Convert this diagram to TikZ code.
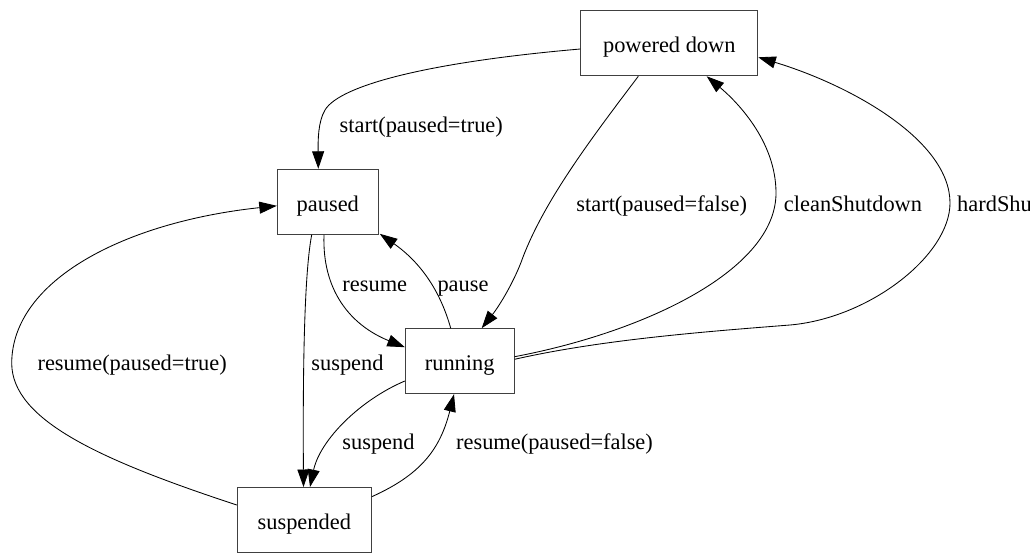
\documentclass[tikz,border=0pt]{standalone}
\usepackage{fontspec}
\setmainfont{Liberation Serif}
\usetikzlibrary{arrows.meta,calc}
\begin{document}
\begin{tikzpicture}[x=1pt,y=-1pt,
  state/.style={draw=black!75, line width=1pt, rectangle, inner sep=0pt,
    minimum height=65pt, text height=19pt, text depth=0pt,
    font=\fontsize{22.4}{26}\selectfont},
  edge/.style={line width=0.85pt, -{Triangle[length=17.5pt,width=12pt]}},
  lbl/.style={inner sep=0pt, anchor=base, font=\fontsize{22.4}{26}\selectfont}]
\clip (0,0) rectangle (1030,552);

% states
\node[state, minimum width=177pt] (pd) at (669.3,43.3) {powered down};
\node[state, minimum width=101pt] (paused) at (327.8,201.8) {paused};
\node[state, minimum width=108.7pt] (running) at (459.7,361.2) {running};
\node[state, minimum width=134pt] (suspended) at (304.3,520) {suspended};

% transitions
\draw[edge] ($(pd.west)+(0,5.7)$) .. controls (430,62) and (340,85) .. (325,110)
  .. controls (318,122) and (318,140) .. ($(paused.north)+(-9.5,0)$);
\draw[edge] ($(pd.south)+(-31,0)$) .. controls (590,140) and (545,200) .. (523,257)
  .. controls (515,280) and (500,305) .. ($(running.north)+(22,0)$);
\draw[edge] ($(running.east)+(0,-4.5)$) .. controls (645,332) and (776,270) .. (776,193)
  .. controls (776,140) and (735,100) .. ($(pd.south)+(37.4,0)$);
\draw[edge] ($(running.east)+(0,-1.9)$) .. controls (600,340) and (700,332) .. (790,325)
  .. controls (870,318) and (950,255) .. (950,203)
  .. controls (950,140) and (850,85) .. ($(pd.east)+(0,14)$);
\draw[edge] ($(paused.south)+(-3.8,0)$) .. controls (322,290) and (350,325)
  .. ($(running.west)+(0,-14)$);
\draw[edge] ($(running.north)+(-9,0)$) .. controls (440,290) and (420,262)
  .. ($(paused.south east)+(1,-1)$);
\draw[edge] ($(paused.south)+(-16.1,0)$) .. controls (303,280) and (303,400)
  .. ($(suspended.north)+(-0.8,0)$);
\draw[edge] ($(running.west)+(0,19.8)$) .. controls (360,400) and (320,440)
  .. ($(suspended.north)+(5.7,0)$);
\draw[edge] ($(suspended.east)+(0,-23.3)$) .. controls (420,475) and (440,450)
  .. ($(running.south)+(-5.7,0)$);
\draw[edge] ($(suspended.west)+(0,-15)$) .. controls (100,460) and (12,420) .. (11.7,363.3)
  .. controls (12,280) and (125,222) .. ($(paused.west)+(0,4)$);

% transition labels
\node[lbl] (l1) at (421.3,132.3) {start(paused=true)};
\node[lbl] (l2) at (661.7,211.7) {start(paused=false)};
\node[lbl] (l3) at (853,211.7) {cleanShutdown};
\node[lbl, anchor=base west] (l4) at (957,211.7) {hardShutdown};
\node[lbl] (l5) at (374.8,291) {resume};
\node[lbl] (l6) at (463,291) {pause};
\node[lbl] (l7) at (347.5,370.3) {suspend};
\node[lbl] (l8) at (132.2,370.7) {resume(paused=true)};
\node[lbl] (l9) at (378.5,449.3) {suspend};
\node[lbl] (l10) at (554.5,449.3) {resume(paused=false)};
\end{tikzpicture}
\end{document}
